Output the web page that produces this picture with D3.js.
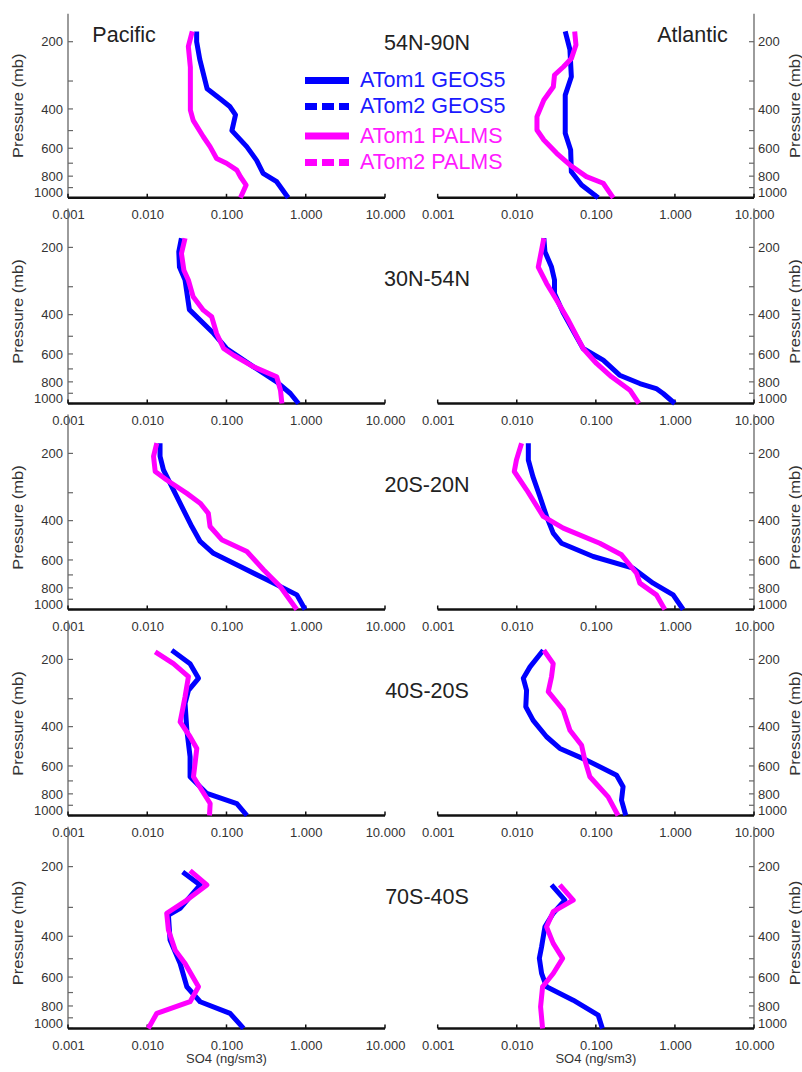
<!DOCTYPE html>
<html>
<head>
<meta charset="utf-8">
<script src="https://cdn.jsdelivr.net/npm/d3@7"></script>
<style>
  html, body { margin: 0; padding: 0; background: #fff; }
  svg { display: block; font-family: "Liberation Sans", Arial, Helvetica, sans-serif; }
</style>
</head>
<body>
<svg id="chart" width="802" height="1072"></svg>
<script>
// ---------------- data ----------------
const regions = ["54N-90N", "30N-54N", "20S-20N", "40S-20S", "70S-40S"];
const basins = ["Pacific", "Atlantic"];
const legendLabels = ["ATom1 GEOS5", "ATom2 GEOS5", "ATom1 PALMS", "ATom2 PALMS"];
const pressureTicks = [200, 400, 600, 800, 1000];
const pressureMinorTicks = [300, 500, 700, 900];
const so4Ticks = [0.001, 0.01, 0.1, 1, 10];
const so4TickLabels = ["0.001", "0.010", "0.100", "1.000", "10.000"];
const pressureDomain = [150, 1000];
const so4Domain = [0.001, 10];

// each entry: [pressure (mb), SO4 (ng/sm3)]
const pac_54N90N_geos5 = [[180,0.042],[200,0.042],[240,0.046],[325,0.057],[360,0.083],[390,0.11],[425,0.13],[500,0.117],[590,0.18],[680,0.24],[777,0.29],[847,0.43],[1000,0.6]];
const pac_54N90N_palms = [[180,0.037],[210,0.033],[260,0.035],[405,0.035],[450,0.038],[533,0.051],[590,0.062],[667,0.075],[700,0.1],[752,0.135],[805,0.15],[877,0.177],[1000,0.15]];
const atl_54N90N_geos5 = [[180,0.041],[217,0.047],[287,0.049],[347,0.041],[514,0.041],[611,0.048],[765,0.049],[876,0.066],[1000,0.107]];
const atl_54N90N_palms = [[180,0.054],[207,0.056],[238,0.049],[259,0.039],[282,0.03],[318,0.029],[365,0.022],[433,0.018],[497,0.018],[551,0.022],[632,0.032],[713,0.047],[804,0.076],[861,0.124],[1000,0.166]];

const pac_30N54N_geos5 = [[182,0.027],[209,0.025],[245,0.0255],[280,0.030],[380,0.034],[486,0.069],[567,0.1],[685,0.22],[800,0.43],[902,0.64],[1000,0.81]];
const pac_30N54N_palms = [[182,0.030],[213,0.027],[253,0.029],[280,0.033],[333,0.038],[382,0.051],[409,0.065],[486,0.075],[567,0.092],[608,0.123],[685,0.22],[759,0.43],[872,0.48],[1000,0.5]];
const atl_30N54N_geos5 = [[182,0.022],[209,0.0227],[245,0.0275],[280,0.030],[322,0.030],[395,0.039],[486,0.054],[567,0.069],[640,0.124],[747,0.2],[814,0.36],[857,0.58],[902,0.71],[1000,0.995]];
const atl_30N54N_palms = [[182,0.022],[245,0.0187],[290,0.0238],[345,0.032],[424,0.045],[567,0.069],[662,0.102],[759,0.158],[872,0.27],[1000,0.35]];

const pac_20S20N_geos5 = [[180,0.0145],[206,0.0145],[237,0.016],[291,0.0214],[358,0.0286],[425,0.0365],[496,0.0465],[560,0.0685],[642,0.149],[736,0.324],[860,0.773],[1000,0.98]];
const pac_20S20N_palms = [[180,0.0132],[206,0.012],[241,0.0126],[263,0.0176],[302,0.0316],[334,0.0465],[371,0.059],[425,0.062],[487,0.087],[550,0.181],[664,0.293],[789,0.476],[1000,0.77]];
const atl_20S20N_geos5 = [[180,0.014],[214,0.014],[254,0.016],[312,0.0196],[383,0.0238],[455,0.0289],[505,0.0368],[579,0.0925],[653,0.296],[762,0.53],[860,0.95],[1000,1.27]];
const atl_20S20N_palms = [[180,0.0115],[214,0.0099],[241,0.0093],[291,0.0133],[383,0.0216],[432,0.0387],[505,0.112],[569,0.211],[688,0.327],[762,0.36],[860,0.583],[1000,0.745]];

const pac_40S20S_geos5 = [[182,0.0204],[209,0.0347],[243,0.0443],[275,0.0331],[315,0.030],[415,0.0316],[546,0.0347],[671,0.0347],[797,0.0565],[884,0.135],[1000,0.181]];
const pac_40S20S_palms = [[185,0.0126],[209,0.0214],[239,0.0331],[294,0.030],[349,0.0273],[381,0.026],[444,0.0347],[501,0.0422],[671,0.0383],[771,0.0488],[884,0.0622],[1000,0.061]];
const atl_40S20S_geos5 = [[182,0.0216],[216,0.0147],[243,0.0121],[275,0.0133],[326,0.013],[375,0.0161],[444,0.0238],[501,0.0351],[565,0.0762],[660,0.183],[744,0.221],[854,0.211],[1000,0.239]];
const atl_40S20S_palms = [[182,0.022],[209,0.0289],[239,0.0275],[279,0.025],[337,0.0387],[415,0.047],[485,0.066],[565,0.0726],[671,0.084],[825,0.143],[1000,0.191]];

const pac_70S40S_geos5 = [[211,0.028],[240,0.0465],[303,0.026],[324,0.0185],[415,0.0194],[524,0.026],[661,0.0316],[767,0.0465],[861,0.111],[1000,0.164]];
const pac_70S40S_palms = [[208,0.0347],[240,0.0565],[279,0.0316],[318,0.0176],[376,0.0185],[459,0.0225],[524,0.030],[661,0.0443],[767,0.0347],[861,0.0132],[1000,0.0103]];
const atl_70S40S_geos5 = [[240,0.0275],[279,0.0406],[318,0.0289],[364,0.0227],[444,0.0206],[498,0.0193],[579,0.0206],[661,0.0238],[755,0.0517],[876,0.107],[1000,0.121]];
const atl_70S40S_palms = [[240,0.035],[279,0.0517],[313,0.0289],[364,0.0238],[429,0.0289],[498,0.038],[579,0.0289],[661,0.0212],[806,0.020],[1000,0.0212]];

const seriesByPanel = [
  [[pac_54N90N_geos5, pac_54N90N_palms], [atl_54N90N_geos5, atl_54N90N_palms]],
  [[pac_30N54N_geos5, pac_30N54N_palms], [atl_30N54N_geos5, atl_30N54N_palms]],
  [[pac_20S20N_geos5, pac_20S20N_palms], [atl_20S20N_geos5, atl_20S20N_palms]],
  [[pac_40S20S_geos5, pac_40S20S_palms], [atl_40S20S_geos5, atl_40S20S_palms]],
  [[pac_70S40S_geos5, pac_70S40S_palms], [atl_70S40S_geos5, atl_70S40S_palms]]
];

// ---------------- layout ----------------
const BLUE = "#0000ff", MAGENTA = "#ff00ff";
const panelTop = [13.8, 219.5, 425.5, 631.5, 837.7];
const panelBottom = [197.8, 403.5, 609.5, 815.5, 1028.4];
const colX = [[68, 385], [437.7, 754]];
const tickColor = "#333";

const svg = d3.select("#chart");

regions.forEach((region, r) => {
  const top = panelTop[r], bottom = panelBottom[r];
  const y = d3.scaleLog().domain(pressureDomain).range([top, bottom]);

  [0, 1].forEach(c => {
    const x = d3.scaleLog().domain(so4Domain).range(colX[c]);
    const g = svg.append("g");
    const axisX = c === 0 ? colX[c][0] : colX[c][1];
    const inward = c === 0 ? 1 : -1;
    const lineTop = r === 0 ? top : top - 11;

    // y axis line
    g.append("line").attr("x1", axisX).attr("x2", axisX)
      .attr("y1", lineTop).attr("y2", bottom)
      .attr("stroke", "#666").attr("stroke-width", 1.3);
    // y ticks
    pressureTicks.concat(pressureMinorTicks).forEach(p => {
      g.append("line").attr("x1", axisX).attr("x2", axisX + inward * 5)
        .attr("y1", y(p)).attr("y2", y(p))
        .attr("stroke", "#666").attr("stroke-width", 1.2);
    });
    pressureTicks.forEach(p => {
      g.append("text")
        .attr("x", c === 0 ? axisX - 5 : axisX + 4)
        .attr("y", y(p) - (p === 1000 ? 5 : 0))
        .attr("dy", "0.36em")
        .attr("text-anchor", c === 0 ? "end" : "start")
        .attr("font-size", 13).attr("fill", tickColor)
        .text(p);
    });
    // Pressure label
    const ly = (top + bottom) / 2;
    const lx = c === 0 ? 18 : 795.5;
    g.append("text")
      .attr("transform", `translate(${lx},${ly}) scale(0.85,1) rotate(-90)`)
      .attr("text-anchor", "middle").attr("dy", "0.35em")
      .attr("font-size", 16.5).attr("fill", tickColor)
      .text("Pressure (mb)");

    // x axis
    const xAxis = d3.axisBottom(x).tickValues(so4Ticks)
      .tickFormat((d, i) => so4TickLabels[i]).tickSize(0).tickPadding(0);
    const ax = g.append("g").attr("transform", `translate(0,${bottom})`).call(xAxis);
    ax.select(".domain").remove();
    ax.selectAll("text").attr("y", 21.5).attr("dy", null)
      .attr("font-size", 13).attr("fill", tickColor)
      .attr("font-family", "Liberation Sans, Arial, sans-serif");
    g.append("line").attr("x1", colX[c][0]).attr("x2", colX[c][1])
      .attr("y1", bottom).attr("y2", bottom)
      .attr("stroke", "#111").attr("stroke-width", 2.5);
    so4Ticks.forEach(v => {
      g.append("line").attr("x1", x(v)).attr("x2", x(v))
        .attr("y1", bottom).attr("y2", bottom - 4)
        .attr("stroke", "#111").attr("stroke-width", 1.5);
    });

    if (r === regions.length - 1) {
      g.append("text").attr("x", x(0.1)).attr("y", bottom + 34.5)
        .attr("text-anchor", "middle").attr("font-size", 13).attr("fill", tickColor)
        .text("SO4 (ng/sm3)");
    }

    // curves
    const line = d3.line().x(d => x(d[1])).y(d => y(d[0]));
    const [geos, palms] = seriesByPanel[r][c];
    [[geos, BLUE], [palms, MAGENTA]].forEach(([data, color]) => {
      g.append("path").datum(data).attr("d", line)
        .attr("fill", "none").attr("stroke", color).attr("stroke-width", 5)
        .attr("stroke-linejoin", "round").attr("stroke-linecap", "butt");
    });
  });

  // region title
  svg.append("text")
    .attr("x", 427).attr("y", r === 0 ? top + 28 : top + 58.5)
    .attr("dy", "0.36em").attr("text-anchor", "middle")
    .attr("font-size", 21.5).attr("fill", "#222")
    .text(region);
});

// basin labels
svg.append("text").attr("x", 124).attr("y", 34).attr("dy", "0.36em")
  .attr("text-anchor", "middle").attr("font-size", 21.5).attr("fill", "#222").text(basins[0]);
svg.append("text").attr("x", 692.5).attr("y", 34).attr("dy", "0.36em")
  .attr("text-anchor", "middle").attr("font-size", 21.5).attr("fill", "#222").text(basins[1]);

// legend
const legendRowY = [80.5, 106.5, 136, 162.5];
const legendColors = [BLUE, BLUE, MAGENTA, MAGENTA];
const legendDashed = [false, true, false, true];
const legendTextColors = ["#1a1aff", "#1a1aff", "#ff1aff", "#ff1aff"];
legendLabels.forEach((lab, i) => {
  svg.append("line").attr("x1", 305).attr("x2", 349)
    .attr("y1", legendRowY[i]).attr("y2", legendRowY[i])
    .attr("stroke", legendColors[i]).attr("stroke-width", 7)
    .attr("stroke-dasharray", legendDashed[i] ? "12,5" : null);
  svg.append("text").attr("x", 360).attr("y", legendRowY[i] - 1).attr("dy", "0.36em")
    .attr("font-size", 21.5).attr("fill", legendTextColors[i]).text(lab);
});
</script>
</body>
</html>
